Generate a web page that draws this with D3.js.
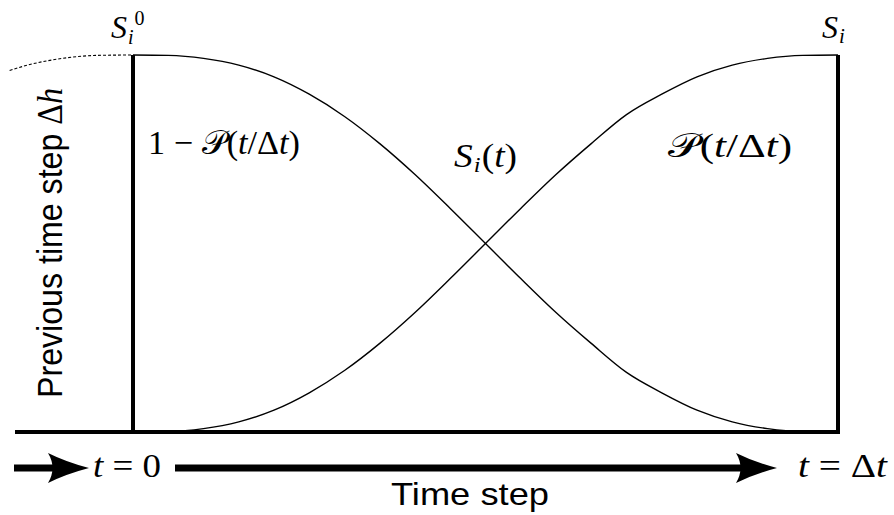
<!DOCTYPE html>
<html>
<head>
<meta charset="utf-8">
<script src="https://cdn.jsdelivr.net/npm/d3@7/dist/d3.min.js"></script>
<style>
  html, body { margin: 0; padding: 0; background: #fff; }
  svg { display: block; }
  .sans { font-family: "Liberation Sans", Arial, Helvetica, sans-serif; }
  .math { font-family: "Liberation Serif", "DejaVu Serif", serif; }
</style>
</head>
<body>
<svg id="chart" width="894" height="515"></svg>
<script>
// Normalised time within the step (t / Δt)
const tSteps = [0, 0.05, 0.1, 0.15, 0.2, 0.25, 0.3, 0.35, 0.4, 0.45, 0.5,
                0.55, 0.6, 0.65, 0.7, 0.75, 0.8, 0.85, 0.9, 0.95, 1];
// Blending weight P(t/Δt) applied to the new state S_i
const pWeight = [0, 0.001, 0.009, 0.027, 0.058, 0.104, 0.163, 0.235, 0.317, 0.407, 0.5,
                 0.593, 0.683, 0.765, 0.842, 0.896, 0.942, 0.973, 0.991, 0.999, 1];
// Tail of the previous step's curve, arriving at S_i^0
const prevT = [-0.175, -0.15, -0.1, -0.05, 0];
const prevWeight = [0.959, 0.973, 0.991, 0.999, 1];

const svg = d3.select("#chart");

const x = d3.scaleLinear().domain([0, 1]).range([133, 838]);
const y = d3.scaleLinear().domain([0, 1]).range([432, 55]);

const line = d3.line()
  .x(d => x(d[0]))
  .y(d => y(d[1]))
  .curve(d3.curveMonotoneX);

const rising = tSteps.map((t, i) => [t, pWeight[i]]);
const falling = tSteps.map((t, i) => [t, 1 - pWeight[i]]);
const tail = prevT.map((t, i) => [t, prevWeight[i]]);

// blending curves
svg.append("path").attr("d", line(falling))
  .attr("fill", "none").attr("stroke", "#000").attr("stroke-width", 1.4);
svg.append("path").attr("d", line(rising))
  .attr("fill", "none").attr("stroke", "#000").attr("stroke-width", 1.4);
svg.append("path").attr("d", line(tail))
  .attr("fill", "none").attr("stroke", "#000").attr("stroke-width", 1.1)
  .attr("stroke-dasharray", "3,2");

// frame: step boundaries and baseline
const frameW = 4;
svg.append("line")
  .attr("x1", 15).attr("x2", x(1) + frameW / 2)
  .attr("y1", y(0)).attr("y2", y(0))
  .attr("stroke", "#000").attr("stroke-width", frameW);
svg.append("line")
  .attr("x1", x(0)).attr("x2", x(0))
  .attr("y1", y(1)).attr("y2", y(0))
  .attr("stroke", "#000").attr("stroke-width", frameW);
svg.append("line")
  .attr("x1", x(1)).attr("x2", x(1))
  .attr("y1", y(1)).attr("y2", y(0) + frameW / 2)
  .attr("stroke", "#000").attr("stroke-width", frameW);

// time arrows below the baseline
const arrowY = 468;
function arrow(x0, tipX) {
  const headL = 41, headH = 15;
  svg.append("line")
    .attr("x1", x0).attr("x2", tipX - headL + 8)
    .attr("y1", arrowY).attr("y2", arrowY)
    .attr("stroke", "#000").attr("stroke-width", 7);
  const bx = tipX - headL;
  svg.append("path")
    .attr("d", `M${tipX},${arrowY}
                Q${bx + 18},${arrowY - 6} ${bx},${arrowY - headH}
                Q${bx + 9},${arrowY} ${bx},${arrowY + headH}
                Q${bx + 18},${arrowY + 6} ${tipX},${arrowY} Z`)
    .attr("fill", "#000");
}
arrow(14, 89);
arrow(175, 777);

// math labels, built from upright / italic pieces
function mathText(px, py, size, parts, width) {
  const t = svg.append("text").attr("class", "math")
    .attr("x", px).attr("y", py).attr("font-size", size);
  parts.forEach(p => {
    const s = t.append("tspan").text(p.t);
    if (p.i) s.attr("font-style", "italic");
    if (p.dy) s.attr("dy", p.dy);
    if (p.fs) s.attr("font-size", p.fs);
    if (p.dx) s.attr("dx", p.dx);
  });
  if (width) t.attr("textLength", width).attr("lengthAdjust", "spacingAndGlyphs");
  return t;
}

// S_i^0 at the start of the step
mathText(111, 38, 32, [
  { t: "S", i: true },
  { t: "i", i: true, fs: 20, dy: 6, dx: 1 },
  { t: "0", fs: 20, dy: -19, dx: 1 },
]);

// S_i at the end of the step
mathText(822, 38, 32, [
  { t: "S", i: true },
  { t: "i", i: true, fs: 21, dy: 5, dx: 1 },
]);

// 1 − P(t/Δt)
mathText(148, 154, 34, [
  { t: "1 − " },
  { t: "𝒫" },
  { t: "(" },
  { t: "t", i: true },
  { t: "/Δ" },
  { t: "t", i: true },
  { t: ")" },
], 152);

// S_i(t)
mathText(454, 167, 34, [
  { t: "S", i: true },
  { t: "i", i: true, fs: 22, dy: 5, dx: 1 },
  { t: "(", dy: -5, dx: 1 },
  { t: "t", i: true },
  { t: ")" },
], 63);

// P(t/Δt)
mathText(668, 157, 34, [
  { t: "𝒫" },
  { t: "(" },
  { t: "t", i: true },
  { t: "/Δ" },
  { t: "t", i: true },
  { t: ")" },
], 124);

// time markers
mathText(93, 477, 34, [
  { t: "t", i: true },
  { t: " = 0" },
], 68);
mathText(798, 477, 34, [
  { t: "t", i: true },
  { t: " = Δ" },
  { t: "t", i: true },
], 89);

// axis captions
svg.append("text").attr("class", "sans")
  .attr("x", 470).attr("y", 505)
  .attr("text-anchor", "middle")
  .attr("font-size", 32)
  .attr("textLength", 158).attr("lengthAdjust", "spacingAndGlyphs")
  .text("Time step");

const vlab = svg.append("text").attr("class", "sans")
  .attr("transform", "translate(62,398) rotate(-90)")
  .attr("font-size", 35)
  .attr("textLength", 310).attr("lengthAdjust", "spacingAndGlyphs");
vlab.append("tspan").text("Previous time step ");
vlab.append("tspan").attr("class", "math").text("Δ");
vlab.append("tspan").attr("class", "math").attr("font-style", "italic").text("h");
</script>
</body>
</html>
